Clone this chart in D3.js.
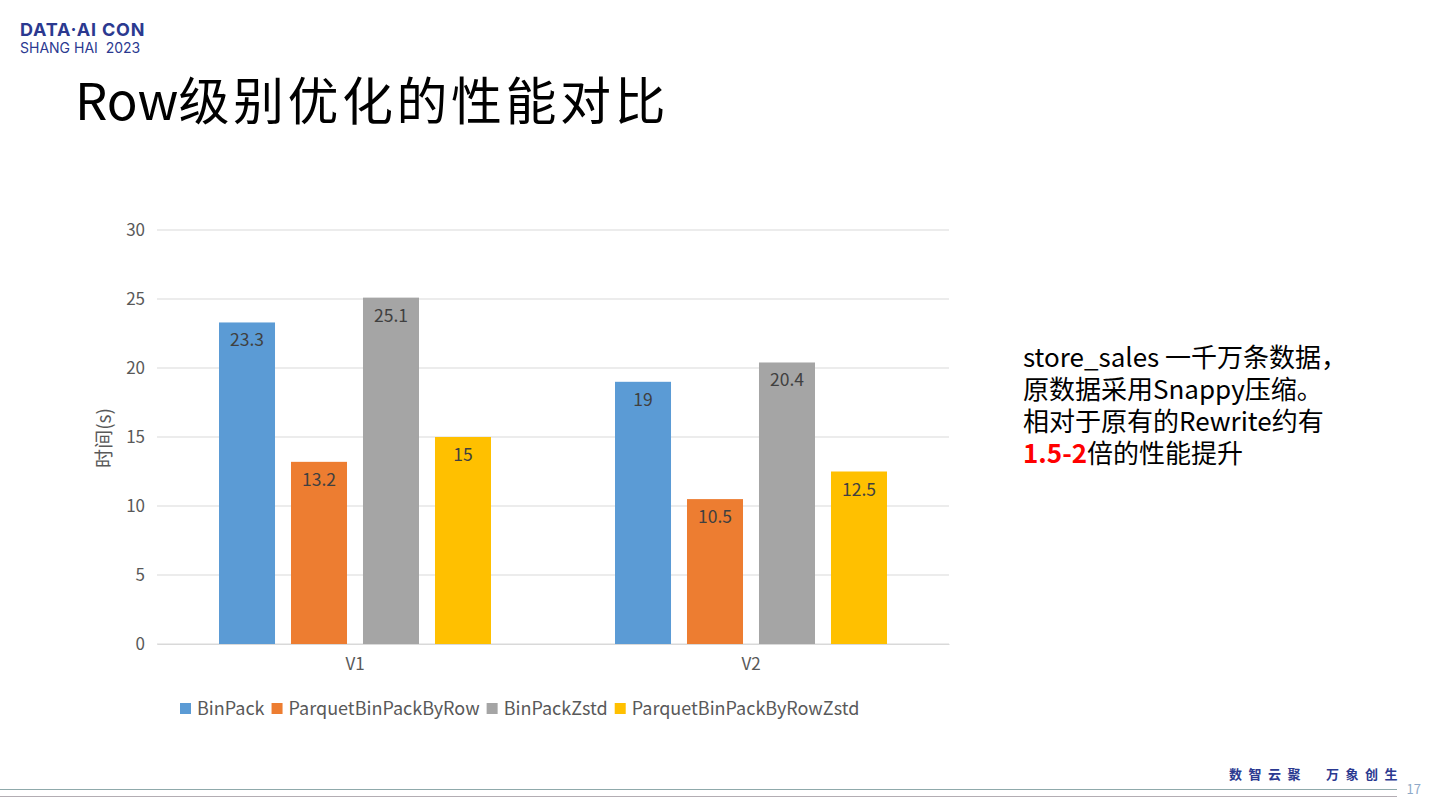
<!DOCTYPE html>
<html lang="zh">
<head>
<meta charset="UTF-8">
<title>Row级别优化的性能对比</title>
<script src="https://d3js.org/d3.v7.min.js"></script>
<style>
  body { margin: 0; background: #fff; font-family: "Noto Sans CJK SC", "Noto Sans", sans-serif; }
  svg { display: block; }
</style>
</head>
<body>
<div id="chart"></div>
<script>
// --- data ---
const groups = ["V1", "V2"];
const seriesNames = ["BinPack", "ParquetBinPackByRow", "BinPackZstd", "ParquetBinPackByRowZstd"];
const seriesColors = ["#5b9bd5", "#ed7d31", "#a5a5a5", "#ffc000"];
const binPack = [23.3, 19];
const parquetBinPackByRow = [13.2, 10.5];
const binPackZstd = [25.1, 20.4];
const parquetBinPackByRowZstd = [15, 12.5];
const yTicks = [0, 5, 10, 15, 20, 25, 30];

const seriesValues = [binPack, parquetBinPackByRow, binPackZstd, parquetBinPackByRowZstd];

const W = 1440, H = 810;
const svg = d3.select("#chart").append("svg").attr("width", W).attr("height", H);

// --- header / logo ---
svg.append("text").attr("x", 20).attr("y", 36)
  .attr("font-family", "Inter, 'Noto Sans', sans-serif").attr("font-weight", 700)
  .attr("font-size", 18).attr("fill", "#2b3990").attr("letter-spacing", 0.8)
  .text("DATA·AI CON");
svg.append("text").attr("x", 20).attr("y", 53)
  .attr("font-family", "Inter, 'Noto Sans', sans-serif")
  .attr("font-size", 14).attr("fill", "#2b3990").attr("xml:space", "preserve")
  .text("SHANG HAI  2023");

const title = svg.append("text").attr("x", 75).attr("y", 120)
  .attr("font-size", 51).attr("fill", "#000");
title.append("tspan").text("Row");
title.append("tspan").attr("letter-spacing", 3.5).text("级别优化的性能对比");

// --- chart area ---
const plot = { left: 157, right: 949, top: 230, bottom: 644 };

const x0 = d3.scaleBand().domain(groups).range([plot.left, plot.right]);
const x1 = d3.scaleBand().domain(seriesNames)
  .range([62, x0.bandwidth() - 62]).paddingInner(0.222);
const y = d3.scaleLinear().domain([0, 30]).range([plot.bottom, plot.top]);

// gridlines
svg.append("g").selectAll("line").data(yTicks).join("line")
  .attr("x1", plot.left).attr("x2", plot.right)
  .attr("y1", d => y(d)).attr("y2", d => y(d))
  .attr("stroke", "#d9d9d9").attr("stroke-width", 1);

// y axis labels
const yAxis = svg.append("g").attr("transform", `translate(${plot.left},0)`)
  .call(d3.axisLeft(y).tickValues(yTicks).tickSize(0).tickPadding(12));
yAxis.select(".domain").remove();
yAxis.selectAll("text").attr("font-family", "'Noto Sans CJK SC', sans-serif")
  .attr("font-size", 17).attr("fill", "#595959");

// x axis
const xAxis = svg.append("g").attr("transform", `translate(0,${plot.bottom})`)
  .call(d3.axisBottom(x0).tickSize(0).tickPadding(14));
xAxis.select(".domain").attr("stroke", "#d9d9d9");
xAxis.selectAll("text").attr("font-family", "'Noto Sans CJK SC', sans-serif")
  .attr("font-size", 17).attr("fill", "#595959");

// bars
const bars = [];
seriesNames.forEach((s, i) => {
  groups.forEach((g, j) => bars.push({ series: s, group: g, value: seriesValues[i][j], color: seriesColors[i] }));
});

const barG = svg.append("g");
barG.selectAll("rect").data(bars).join("rect")
  .attr("x", d => x0(d.group) + x1(d.series))
  .attr("width", x1.bandwidth())
  .attr("y", d => y(d.value))
  .attr("height", d => y(0) - y(d.value))
  .attr("fill", d => d.color);

barG.selectAll("text").data(bars).join("text")
  .attr("x", d => x0(d.group) + x1(d.series) + x1.bandwidth() / 2)
  .attr("y", d => y(d.value) + 24)
  .attr("text-anchor", "middle")
  .attr("font-size", 17.5).attr("fill", "#404040")
  .text(d => d.value);

// y axis title
svg.append("text")
  .attr("transform", `translate(111,${(plot.top + plot.bottom) / 2 + 1}) rotate(-90)`)
  .attr("text-anchor", "middle")
  .attr("font-size", 19).attr("fill", "#595959")
  .text("时间(s)");

// legend
const legendItems = seriesNames.map((s, i) => ({ name: s, color: seriesColors[i] }));
const legend = svg.append("g").attr("transform", "translate(180,708)");
let lx = 0;
legendItems.forEach(d => {
  const g = legend.append("g").attr("transform", `translate(${lx},0)`);
  g.append("rect").attr("x", 0).attr("y", -5).attr("width", 11).attr("height", 11).attr("fill", d.color);
  const t = g.append("text").attr("x", 17).attr("y", 6.5)
    .attr("font-size", 18).attr("fill", "#595959").text(d.name);
  lx += 17 + t.node().getComputedTextLength() + 7;
});

// side note: one text block, lines as tspans
const note = svg.append("text").attr("x", 1023).attr("y", 367)
  .attr("font-size", 26).attr("fill", "#000");
note.append("tspan").attr("x", 1023).attr("dy", 0).text("store_sales 一千万条数据，");
note.append("tspan").attr("x", 1023).attr("dy", 32).text("原数据采用Snappy压缩。");
note.append("tspan").attr("x", 1023).attr("dy", 32).text("相对于原有的Rewrite约有");
note.append("tspan").attr("x", 1023).attr("dy", 32)
  .attr("fill", "#ff0000").attr("font-weight", 700).text("1.5-2");
note.append("tspan").text("倍的性能提升");

// footer
svg.append("text").attr("x", 1229).attr("y", 779)
  .attr("font-size", 13).attr("font-weight", 700).attr("fill", "#2b3990")
  .attr("letter-spacing", 6.5).text("数智云聚");
svg.append("text").attr("x", 1326).attr("y", 779)
  .attr("font-size", 13).attr("font-weight", 700).attr("fill", "#2b3990")
  .attr("letter-spacing", 6.5).text("万象创生");
svg.append("line").attr("x1", 0).attr("x2", 1397).attr("y1", 789.5).attr("y2", 789.5)
  .attr("stroke", "#8fa9ab").attr("stroke-width", 1);
svg.append("line").attr("x1", 0).attr("x2", 1397).attr("y1", 796.5).attr("y2", 796.5)
  .attr("stroke", "#b3adb3").attr("stroke-width", 1);
svg.append("text").attr("x", 1421).attr("y", 794).attr("text-anchor", "end")
  .attr("font-size", 13).attr("fill", "#8fa9c8").text("17");
</script>
</body>
</html>
